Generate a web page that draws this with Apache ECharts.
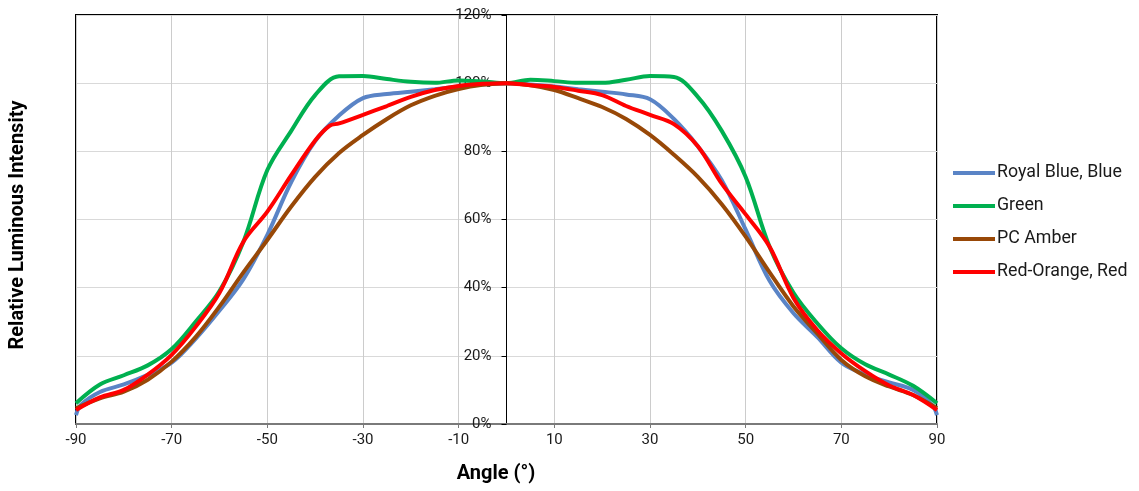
<!DOCTYPE html>
<html>
<head>
<meta charset="utf-8">
<script src="https://cdn.jsdelivr.net/npm/echarts@6/dist/echarts.min.js"></script>
<style>
html,body{margin:0;padding:0;background:#fff;}
#chart{width:1139px;height:491px;}
</style>
</head>
<body>
<div id="chart"></div>
<script>
const seriesNames = ['Royal Blue, Blue', 'Green', 'PC Amber', 'Red-Orange, Red'];

const blueAngles  = [-90,-89,-85,-80,-75,-70,-65,-60,-55,-50,-45,-40,-35,-30,-25,-20,-15,-10,-5,0,5,10,15,20,25,30,35,40,45,50,55,60,65,70,75,80,85,89,90];
const blueValues  = [2.6,5.6,9.4,11.6,14.4,18.0,25.0,33.3,42.5,55.5,71,83,90.5,95.6,96.8,97.5,98.2,99,99.6,100,99.6,99,98.2,97.5,96.7,95.3,89.5,81.5,71.5,57,42,32.5,25.5,18,14.5,12.2,10,5.6,2.6];

const greenAngles = [-90,-85,-80,-75,-70,-65,-60,-55,-50,-45,-40,-35,-30,-25,-20,-15,-10,-5,0,5,10,15,20,25,30,35,40,45,50,55,60,65,70,75,80,85,90];
const greenValues = [6.1,11.6,14.3,17.2,22.0,30.0,39.0,53.5,74.5,86.0,96.5,102.0,102.1,101.2,100.4,100.1,100.8,100.5,100,101.0,100.6,100.1,100.1,101.0,102.1,101.8,96.0,86.0,72.5,52.0,38.5,29.5,22.2,17.5,14.5,11.2,6.1];

const amberAngles = [-90,-85,-80,-75,-70,-65,-60,-55,-50,-45,-40,-35,-30,-25,-20,-15,-10,-5,0,5,10,15,20,25,30,35,40,45,50,55,60,65,70,75,80,85,90];
const amberValues = [4.6,7.5,9.5,13.0,18.3,25.5,34.5,44.5,54.0,63.8,72.5,79.5,84.8,89.5,93.5,96.3,98.3,99.5,100,99.4,98.0,95.6,93.0,89.5,84.8,79.0,72.5,64.5,55.0,44.5,34.5,26.5,18.8,14.0,11.0,8.5,4.6];

const redAngles   = [-90,-85,-80,-75,-70,-65,-60,-55,-50,-45,-40,-37,-35,-30,-25,-20,-15,-10,-5,0,5,10,15,20,25,30,35,40,45,50,55,60,65,70,75,80,85,90];
const redValues   = [4.1,7.8,10.0,14.5,20.3,28.5,38.5,53.5,62.3,73.0,83.2,87.5,88.2,90.7,93.3,96.0,98.0,99.2,99.8,100,99.4,98.9,97.8,96.5,93.3,90.7,88.0,81.5,70.5,61.5,52.0,37.0,27.5,20.7,15.5,11.3,8.5,4.1];

const xTicks = [-90,-70,-50,-30,-10,10,30,50,70,90];
const yTicks = [0,20,40,60,80,100,120];

const pairs = (a, v) => a.map((x, i) => [x, v[i]]);
const colors = ['#5A84C6', '#00B050', '#984807', '#FF0000'];
const dataSets = [pairs(blueAngles, blueValues), pairs(greenAngles, greenValues), pairs(amberAngles, amberValues), pairs(redAngles, redValues)];

const W = 1139, H = 491;
const gridLeft = 76, gridRight = 202, gridTop = 15, gridBottom = 67;
const plotW = W - gridLeft - gridRight;
const zeroOffset = plotW * (0 - xTicks[0]) / (xTicks[xTicks.length - 1] - xTicks[0]);

const chart = echarts.init(document.getElementById('chart'), null, {renderer: 'canvas'});
chart.setOption({
  animation: false,
  backgroundColor: '#fff',
  textStyle: {fontFamily: 'Roboto'},
  grid: {left: gridLeft, right: gridRight, top: gridTop, bottom: gridBottom, show: true, borderColor: '#000', borderWidth: 2, backgroundColor: 'transparent', containLabel: false},
  xAxis: {
    type: 'value', min: xTicks[0], max: xTicks[xTicks.length - 1], interval: 20,
    axisLine: {onZero: false, lineStyle: {color: '#7a7a7a', width: 2}},
    axisTick: {show: true, length: 4, lineStyle: {color: '#7a7a7a'}},
    axisLabel: {color: '#1a1a1a', fontSize: 15, margin: 9},
    splitLine: {show: true, lineStyle: {color: '#cccccc', width: 1}}
  },
  yAxis: {
    type: 'value', min: yTicks[0], max: yTicks[yTicks.length - 1], interval: 20,
    position: 'left', offset: -zeroOffset,
    axisLine: {show: true, onZero: false, lineStyle: {color: '#000', width: 1}},
    axisTick: {show: true, length: 5, lineStyle: {color: '#000'}},
    axisLabel: {color: '#1a1a1a', fontSize: 15, margin: 15, formatter: '{value}%'},
    splitLine: {show: true, lineStyle: {color: '#d9d9d9', width: 1}}
  },
  legend: {
    orient: 'vertical', left: 953, top: 164, itemWidth: 42, itemHeight: 4, itemGap: 15, padding: 0,
    icon: 'rect',
    textStyle: {fontSize: 17.8, color: '#1a1a1a', padding: [0, 0, 0, -3]},
    data: seriesNames
  },
  graphic: [
    {type: 'text', x: 18, y: 225, rotation: Math.PI / 2,
     style: {text: 'Relative Luminous Intensity', font: 'bold 20px Roboto', fill: '#000', align: 'center', verticalAlign: 'middle'}},
    {type: 'text', x: 496, y: 474,
     style: {text: 'Angle (°)', font: 'bold 20px Roboto', fill: '#000', align: 'center', verticalAlign: 'middle'}}
  ],
  series: seriesNames.map((name, i) => ({
    name: name, type: 'line', data: dataSets[i], smooth: 0.35, symbol: 'none', showSymbol: false,
    lineStyle: {color: colors[i], width: 4}, itemStyle: {color: colors[i]}, z: 3 + i
  }))
});
</script>
</body>
</html>
